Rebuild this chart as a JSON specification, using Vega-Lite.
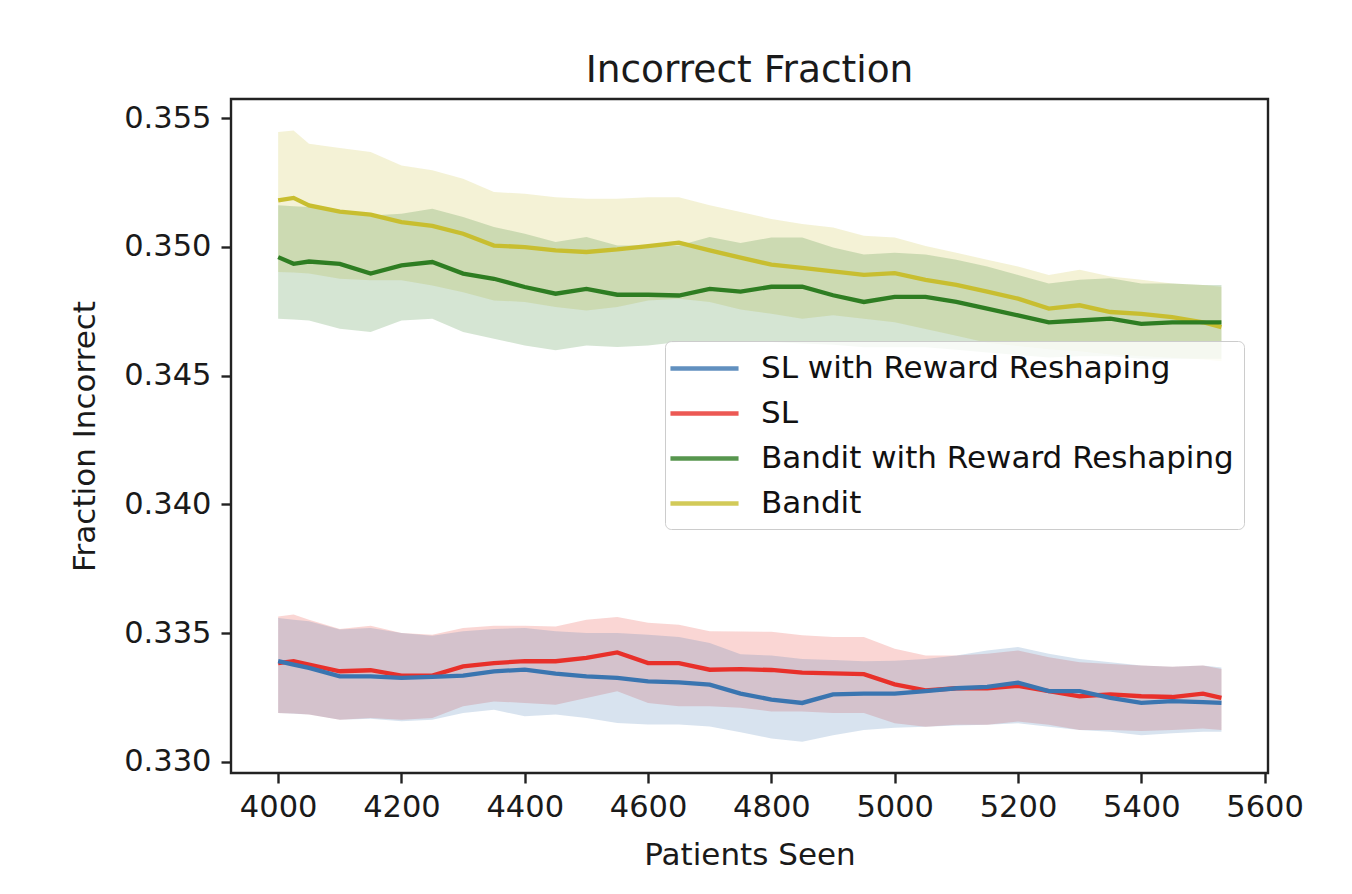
{
 "$schema": "https://vega.github.io/schema/vega-lite/v6.json",
 "width": 1037,
 "height": 674,
 "autosize": {"type": "none"},
 "padding": {"left": 231, "top": 99, "right": 84, "bottom": 121},
 "background": "white",
 "config": {"font": "DejaVu Sans", "view": {"stroke": "#222222", "strokeWidth": 2.4}},
 "title": {"text": "Incorrect Fraction", "fontSize": 37.5, "fontWeight": "normal", "color": "#1a1a1a", "offset": 10, "font": "DejaVu Sans"},
 "datasets": {
  "d": [
   {"x":4000,"s":"Bandit","m":0.3518,"hi":0.35446,"lo":0.34902},
   {"x":4025,"s":"Bandit","m":0.3519,"hi":0.35452,"lo":0.34900},
   {"x":4050,"s":"Bandit","m":0.35161,"hi":0.35400,"lo":0.34896},
   {"x":4100,"s":"Bandit","m":0.35137,"hi":0.35384,"lo":0.34876},
   {"x":4150,"s":"Bandit","m":0.35125,"hi":0.35368,"lo":0.34870},
   {"x":4200,"s":"Bandit","m":0.35096,"hi":0.35316,"lo":0.34870},
   {"x":4250,"s":"Bandit","m":0.35081,"hi":0.35297,"lo":0.34850},
   {"x":4300,"s":"Bandit","m":0.35051,"hi":0.35264,"lo":0.34824},
   {"x":4350,"s":"Bandit","m":0.35005,"hi":0.35213,"lo":0.34792},
   {"x":4400,"s":"Bandit","m":0.34999,"hi":0.35206,"lo":0.34786},
   {"x":4450,"s":"Bandit","m":0.34986,"hi":0.35193,"lo":0.34766},
   {"x":4500,"s":"Bandit","m":0.34980,"hi":0.35187,"lo":0.34753},
   {"x":4550,"s":"Bandit","m":0.34990,"hi":0.35187,"lo":0.34766},
   {"x":4600,"s":"Bandit","m":0.35003,"hi":0.35193,"lo":0.34792},
   {"x":4650,"s":"Bandit","m":0.35016,"hi":0.35193,"lo":0.34798},
   {"x":4700,"s":"Bandit","m":0.34986,"hi":0.35161,"lo":0.34786},
   {"x":4750,"s":"Bandit","m":0.34958,"hi":0.35135,"lo":0.34757},
   {"x":4800,"s":"Bandit","m":0.34931,"hi":0.35108,"lo":0.34740},
   {"x":4850,"s":"Bandit","m":0.34918,"hi":0.35089,"lo":0.34721},
   {"x":4900,"s":"Bandit","m":0.34905,"hi":0.35075,"lo":0.34734},
   {"x":4950,"s":"Bandit","m":0.34891,"hi":0.35043,"lo":0.34721},
   {"x":5000,"s":"Bandit","m":0.34898,"hi":0.35036,"lo":0.34707},
   {"x":5050,"s":"Bandit","m":0.34872,"hi":0.35003,"lo":0.34681},
   {"x":5100,"s":"Bandit","m":0.34852,"hi":0.34977,"lo":0.34655},
   {"x":5150,"s":"Bandit","m":0.34826,"hi":0.34950,"lo":0.34628},
   {"x":5200,"s":"Bandit","m":0.34799,"hi":0.34924,"lo":0.34615},
   {"x":5250,"s":"Bandit","m":0.34760,"hi":0.34891,"lo":0.34602},
   {"x":5300,"s":"Bandit","m":0.34773,"hi":0.34911,"lo":0.34595},
   {"x":5350,"s":"Bandit","m":0.34747,"hi":0.34885,"lo":0.34582},
   {"x":5400,"s":"Bandit","m":0.34740,"hi":0.34872,"lo":0.34576},
   {"x":5450,"s":"Bandit","m":0.34727,"hi":0.34858,"lo":0.34569},
   {"x":5500,"s":"Bandit","m":0.34707,"hi":0.34852,"lo":0.34563},
   {"x":5530,"s":"Bandit","m":0.34688,"hi":0.34845,"lo":0.34556},

   {"x":4000,"s":"Bandit with Reward Reshaping","m":0.34960,"hi":0.35161,"lo":0.34721},
   {"x":4025,"s":"Bandit with Reward Reshaping","m":0.34934,"hi":0.35158,"lo":0.34718},
   {"x":4050,"s":"Bandit with Reward Reshaping","m":0.34943,"hi":0.35155,"lo":0.34714},
   {"x":4100,"s":"Bandit with Reward Reshaping","m":0.34934,"hi":0.35141,"lo":0.34682},
   {"x":4150,"s":"Bandit with Reward Reshaping","m":0.34896,"hi":0.35122,"lo":0.34669},
   {"x":4200,"s":"Bandit with Reward Reshaping","m":0.34928,"hi":0.35128,"lo":0.34714},
   {"x":4250,"s":"Bandit with Reward Reshaping","m":0.34941,"hi":0.35148,"lo":0.34721},
   {"x":4300,"s":"Bandit with Reward Reshaping","m":0.34896,"hi":0.35116,"lo":0.34669},
   {"x":4350,"s":"Bandit with Reward Reshaping","m":0.34876,"hi":0.35077,"lo":0.34643},
   {"x":4400,"s":"Bandit with Reward Reshaping","m":0.34844,"hi":0.35051,"lo":0.34617},
   {"x":4450,"s":"Bandit with Reward Reshaping","m":0.34818,"hi":0.35019,"lo":0.34598},
   {"x":4500,"s":"Bandit with Reward Reshaping","m":0.34837,"hi":0.35038,"lo":0.34617},
   {"x":4550,"s":"Bandit with Reward Reshaping","m":0.34814,"hi":0.35005,"lo":0.34611},
   {"x":4600,"s":"Bandit with Reward Reshaping","m":0.34814,"hi":0.35005,"lo":0.34617},
   {"x":4650,"s":"Bandit with Reward Reshaping","m":0.34811,"hi":0.35005,"lo":0.34630},
   {"x":4700,"s":"Bandit with Reward Reshaping","m":0.34837,"hi":0.35038,"lo":0.34630},
   {"x":4750,"s":"Bandit with Reward Reshaping","m":0.34826,"hi":0.35015,"lo":0.34630},
   {"x":4800,"s":"Bandit with Reward Reshaping","m":0.34845,"hi":0.35036,"lo":0.34630},
   {"x":4850,"s":"Bandit with Reward Reshaping","m":0.34845,"hi":0.35036,"lo":0.34625},
   {"x":4900,"s":"Bandit with Reward Reshaping","m":0.34812,"hi":0.34997,"lo":0.34620},
   {"x":4950,"s":"Bandit with Reward Reshaping","m":0.34786,"hi":0.34970,"lo":0.34610},
   {"x":5000,"s":"Bandit with Reward Reshaping","m":0.34806,"hi":0.34977,"lo":0.34610},
   {"x":5050,"s":"Bandit with Reward Reshaping","m":0.34806,"hi":0.34970,"lo":0.34610},
   {"x":5100,"s":"Bandit with Reward Reshaping","m":0.34786,"hi":0.34950,"lo":0.34600},
   {"x":5150,"s":"Bandit with Reward Reshaping","m":0.34760,"hi":0.34924,"lo":0.34590},
   {"x":5200,"s":"Bandit with Reward Reshaping","m":0.34734,"hi":0.34891,"lo":0.34580},
   {"x":5250,"s":"Bandit with Reward Reshaping","m":0.34707,"hi":0.34858,"lo":0.34570},
   {"x":5300,"s":"Bandit with Reward Reshaping","m":0.34714,"hi":0.34872,"lo":0.34575},
   {"x":5350,"s":"Bandit with Reward Reshaping","m":0.34721,"hi":0.34878,"lo":0.34575},
   {"x":5400,"s":"Bandit with Reward Reshaping","m":0.34701,"hi":0.34858,"lo":0.34565},
   {"x":5450,"s":"Bandit with Reward Reshaping","m":0.34707,"hi":0.34858,"lo":0.34565},
   {"x":5500,"s":"Bandit with Reward Reshaping","m":0.34707,"hi":0.34852,"lo":0.34565},
   {"x":5530,"s":"Bandit with Reward Reshaping","m":0.34707,"hi":0.34852,"lo":0.34565},

   {"x":4000,"s":"SL","m":0.33384,"hi":0.33565,"lo":0.33190},
   {"x":4025,"s":"SL","m":0.33391,"hi":0.33572,"lo":0.33188},
   {"x":4050,"s":"SL","m":0.33378,"hi":0.33552,"lo":0.33184},
   {"x":4100,"s":"SL","m":0.33352,"hi":0.33516,"lo":0.33164},
   {"x":4150,"s":"SL","m":0.33356,"hi":0.33529,"lo":0.33171},
   {"x":4200,"s":"SL","m":0.33335,"hi":0.33501,"lo":0.33164},
   {"x":4250,"s":"SL","m":0.33335,"hi":0.33494,"lo":0.33171},
   {"x":4300,"s":"SL","m":0.33371,"hi":0.33520,"lo":0.33216},
   {"x":4350,"s":"SL","m":0.33384,"hi":0.33529,"lo":0.33235},
   {"x":4400,"s":"SL","m":0.33391,"hi":0.33529,"lo":0.33229},
   {"x":4450,"s":"SL","m":0.33391,"hi":0.33526,"lo":0.33222},
   {"x":4500,"s":"SL","m":0.33404,"hi":0.33552,"lo":0.33248},
   {"x":4550,"s":"SL","m":0.33425,"hi":0.33563,"lo":0.33274},
   {"x":4600,"s":"SL","m":0.33384,"hi":0.33540,"lo":0.33229},
   {"x":4650,"s":"SL","m":0.33384,"hi":0.33533,"lo":0.33216},
   {"x":4700,"s":"SL","m":0.33358,"hi":0.33507,"lo":0.33216},
   {"x":4750,"s":"SL","m":0.33360,"hi":0.33506,"lo":0.33210},
   {"x":4800,"s":"SL","m":0.33357,"hi":0.33505,"lo":0.33196},
   {"x":4850,"s":"SL","m":0.33347,"hi":0.33492,"lo":0.33196},
   {"x":4900,"s":"SL","m":0.33344,"hi":0.33485,"lo":0.33190},
   {"x":4950,"s":"SL","m":0.33341,"hi":0.33485,"lo":0.33190},
   {"x":5000,"s":"SL","m":0.33301,"hi":0.33439,"lo":0.33150},
   {"x":5050,"s":"SL","m":0.33278,"hi":0.33413,"lo":0.33137},
   {"x":5100,"s":"SL","m":0.33286,"hi":0.33413,"lo":0.33144},
   {"x":5150,"s":"SL","m":0.33286,"hi":0.33420,"lo":0.33144},
   {"x":5200,"s":"SL","m":0.33295,"hi":0.33433,"lo":0.33157},
   {"x":5250,"s":"SL","m":0.33275,"hi":0.33406,"lo":0.33144},
   {"x":5300,"s":"SL","m":0.33255,"hi":0.33387,"lo":0.33124},
   {"x":5350,"s":"SL","m":0.33262,"hi":0.33380,"lo":0.33124},
   {"x":5400,"s":"SL","m":0.33255,"hi":0.33374,"lo":0.33120},
   {"x":5450,"s":"SL","m":0.33252,"hi":0.33370,"lo":0.33124},
   {"x":5500,"s":"SL","m":0.33265,"hi":0.33374,"lo":0.33130},
   {"x":5530,"s":"SL","m":0.33249,"hi":0.33361,"lo":0.33124},

   {"x":4000,"s":"SL with Reward Reshaping","m":0.33391,"hi":0.33559,"lo":0.33190},
   {"x":4025,"s":"SL with Reward Reshaping","m":0.33378,"hi":0.33552,"lo":0.33187},
   {"x":4050,"s":"SL with Reward Reshaping","m":0.33365,"hi":0.33546,"lo":0.33184},
   {"x":4100,"s":"SL with Reward Reshaping","m":0.33332,"hi":0.33514,"lo":0.33164},
   {"x":4150,"s":"SL with Reward Reshaping","m":0.33332,"hi":0.33520,"lo":0.33168},
   {"x":4200,"s":"SL with Reward Reshaping","m":0.33326,"hi":0.33501,"lo":0.33158},
   {"x":4250,"s":"SL with Reward Reshaping","m":0.33330,"hi":0.33490,"lo":0.33164},
   {"x":4300,"s":"SL with Reward Reshaping","m":0.33335,"hi":0.33507,"lo":0.33190},
   {"x":4350,"s":"SL with Reward Reshaping","m":0.33352,"hi":0.33516,"lo":0.33203},
   {"x":4400,"s":"SL with Reward Reshaping","m":0.33358,"hi":0.33520,"lo":0.33177},
   {"x":4450,"s":"SL with Reward Reshaping","m":0.33343,"hi":0.33507,"lo":0.33184},
   {"x":4500,"s":"SL with Reward Reshaping","m":0.33332,"hi":0.33501,"lo":0.33171},
   {"x":4550,"s":"SL with Reward Reshaping","m":0.33326,"hi":0.33501,"lo":0.33151},
   {"x":4600,"s":"SL with Reward Reshaping","m":0.33313,"hi":0.33494,"lo":0.33145},
   {"x":4650,"s":"SL with Reward Reshaping","m":0.33309,"hi":0.33485,"lo":0.33145},
   {"x":4700,"s":"SL with Reward Reshaping","m":0.33300,"hi":0.33462,"lo":0.33138},
   {"x":4750,"s":"SL with Reward Reshaping","m":0.33265,"hi":0.33418,"lo":0.33115},
   {"x":4800,"s":"SL with Reward Reshaping","m":0.33242,"hi":0.33413,"lo":0.33091},
   {"x":4850,"s":"SL with Reward Reshaping","m":0.33229,"hi":0.33400,"lo":0.33078},
   {"x":4900,"s":"SL with Reward Reshaping","m":0.33262,"hi":0.33396,"lo":0.33104},
   {"x":4950,"s":"SL with Reward Reshaping","m":0.33265,"hi":0.33391,"lo":0.33124},
   {"x":5000,"s":"SL with Reward Reshaping","m":0.33265,"hi":0.33393,"lo":0.33133},
   {"x":5050,"s":"SL with Reward Reshaping","m":0.33275,"hi":0.33400,"lo":0.33137},
   {"x":5100,"s":"SL with Reward Reshaping","m":0.33286,"hi":0.33413,"lo":0.33141},
   {"x":5150,"s":"SL with Reward Reshaping","m":0.33291,"hi":0.33433,"lo":0.33144},
   {"x":5200,"s":"SL with Reward Reshaping","m":0.33308,"hi":0.33446,"lo":0.33150},
   {"x":5250,"s":"SL with Reward Reshaping","m":0.33275,"hi":0.33420,"lo":0.33137},
   {"x":5300,"s":"SL with Reward Reshaping","m":0.33275,"hi":0.33400,"lo":0.33124},
   {"x":5350,"s":"SL with Reward Reshaping","m":0.33249,"hi":0.33387,"lo":0.33117},
   {"x":5400,"s":"SL with Reward Reshaping","m":0.33229,"hi":0.33374,"lo":0.33104},
   {"x":5450,"s":"SL with Reward Reshaping","m":0.33236,"hi":0.33370,"lo":0.33111},
   {"x":5500,"s":"SL with Reward Reshaping","m":0.33232,"hi":0.33374,"lo":0.33117},
   {"x":5530,"s":"SL with Reward Reshaping","m":0.33229,"hi":0.33367,"lo":0.33117}
  ]
 },
 "data": {"name": "d"},
 "encoding": {
  "x": {"field": "x", "type": "quantitative",
        "scale": {"domain": [3923.5, 5605.5], "nice": false, "zero": false},
        "axis": {"title": "Patients Seen", "values": [4000,4200,4400,4600,4800,5000,5200,5400,5600], "format": "d",
                 "grid": false, "domain": false, "tickSize": 10, "tickWidth": 2.4, "tickColor": "#222222",
                 "labelFontSize": 30.5, "labelColor": "#1a1a1a", "labelPadding": 9, "labelFont": "DejaVu Sans",
                 "titleFontSize": 31, "titleFontWeight": "normal", "titleColor": "#1a1a1a", "titlePadding": 18, "titleFont": "DejaVu Sans", "labelFlush": false}},
  "color": {"field": "s", "type": "nominal", "title": null,
            "scale": {"domain": ["SL with Reward Reshaping", "SL", "Bandit with Reward Reshaping", "Bandit"],
                      "range": ["#3a75b0", "#e8302a", "#2e7d22", "#c8be30"]},
            "legend": {"orient": "none", "legendX": 434, "legendY": 242, "symbolType": "M-1.47,0H3.07", "symbolSize": 900,
                       "symbolStrokeWidth": 4.5, "symbolOpacity": 0.8, "labelFontSize": 31, "labelColor": "#111111", "labelFont": "DejaVu Sans",
                       "labelOffset": 51, "rowPadding": 12, "padding": 10, "fillColor": "rgba(255,255,255,0.8)",
                       "strokeColor": "#cccccc", "cornerRadius": 6, "labelLimit": 700}}
 },
 "layer": [
  {"mark": {"type": "area", "opacity": 0.2},
   "encoding": {"y": {"field": "lo", "type": "quantitative",
                      "scale": {"domain": [0.32957, 0.35574], "nice": false, "zero": false},
                      "axis": {"title": "Fraction Incorrect", "values": [0.330,0.335,0.340,0.345,0.350,0.355], "format": ".3f",
                               "grid": false, "domain": false, "tickSize": 10, "tickWidth": 2.4, "tickColor": "#222222",
                               "labelFontSize": 30.5, "labelColor": "#1a1a1a", "labelPadding": 10, "labelFont": "DejaVu Sans",
                               "titleFontSize": 31, "titleFontWeight": "normal", "titleColor": "#1a1a1a", "titlePadding": 22, "titleFont": "DejaVu Sans", "labelFlush": false}},
                "y2": {"field": "hi"}}},
  {"mark": {"type": "line", "strokeWidth": 4.3},
   "encoding": {"y": {"field": "m", "type": "quantitative"}}}
 ]
}
